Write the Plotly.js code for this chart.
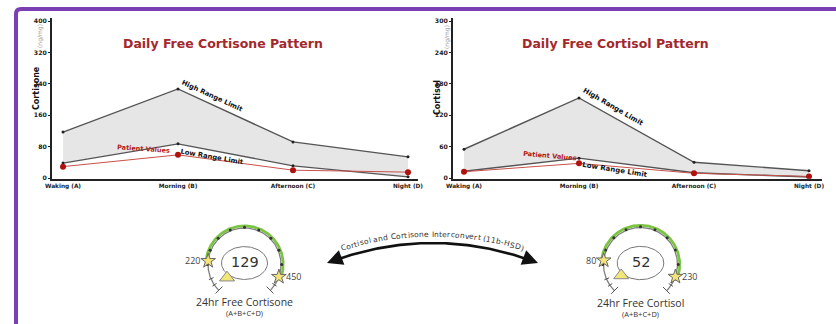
<!DOCTYPE html>
<html><head><meta charset="utf-8">
<script src="https://cdn.plot.ly/plotly-3.0.1.min.js"></script>
<style>html,body{margin:0;padding:0;background:#fff;}#chart{width:836px;height:324px;}</style>
</head><body><div id="chart"></div>
<script>
// ---------- data ----------
const categories = ['Waking (A)','Morning (B)','Afternoon (C)','Night (D)'];
const cortisoneHigh = [117, 227, 92, 54];
const cortisoneLow = [38, 87, 31, 3];
const cortisonePatient = [29, 59, 20, 15];
const cortisolHigh = [55, 153, 30, 14];
const cortisolLow = [13, 38, 10, 2];
const cortisolPatient = [12, 28, 9, 3];
const cortisoneTicks = [0, 80, 160, 240, 320, 400];
const cortisolTicks = [0, 60, 120, 180, 240, 300];

const gaugeTitles = ['24hr Free Cortisone', '24hr Free Cortisol'];
const gaugeSubtitles = ['(A+B+C+D)', '(A+B+C+D)'];
const gaugeValues = [129, 52];
const gaugeLow = [220, 80];
const gaugeHigh = [450, 230];
const gaugeMin = [160, 40];
const gaugeMax = [480, 250];
const arrowLabel = 'Cortisol and Cortisone Interconvert (11b-HSD)';

// ---------- layout helpers ----------
const W = 836, H = 324;
const fx = p => p / W, fy = p => 1 - p / H;
const F = 'DejaVu Sans';
const GF = 'Open Sans';

function rangeTraces(xa, ya, low, high, pat) {
  return [
    {type:'scatter', x:categories, y:low, xaxis:xa, yaxis:ya, mode:'lines+markers',
     line:{color:'#555', width:1.4}, marker:{color:'#222', size:3}},
    {type:'scatter', x:categories, y:high, xaxis:xa, yaxis:ya, mode:'lines+markers',
     fill:'tonexty', fillcolor:'#e6e6e6', line:{color:'#555', width:1.4}, marker:{color:'#222', size:3}},
    {type:'scatter', x:categories, y:pat, xaxis:xa, yaxis:ya, mode:'lines+markers',
     line:{color:'#c8504a', width:1}, marker:{color:'#b0100e', size:6}}
  ];
}
function xAx(p0, p1, r1, anchor) {
  return {domain:[fx(p0), fx(p1)], range:[-0.0957, r1], type:'category', anchor:anchor,
    showline:true, linecolor:'#222', linewidth:2, showgrid:false, zeroline:false, ticks:'',
    tickfont:{family:F, size:5.8, color:'#222', weight:'bold'}, fixedrange:true};
}
function yAx(rng, tv, anchor) {
  return {domain:[fy(178.8), fy(17.9)], range:rng, tickvals:tv, anchor:anchor,
    ticks:'outside', ticklen:2, tickwidth:1, tickcolor:'#222',
    showline:true, linecolor:'#222', linewidth:2, showgrid:false, zeroline:false,
    tickfont:{family:F, size:6.2, color:'#222', weight:'bold'}, fixedrange:true};
}

let traces = [];
traces = traces.concat(rangeTraces('x', 'y', cortisoneLow, cortisoneHigh, cortisonePatient));
traces = traces.concat(rangeTraces('x2', 'y2', cortisolLow, cortisolHigh, cortisolPatient));

const layout = {
  width:W, height:H, margin:{l:0, r:0, t:0, b:0},
  paper_bgcolor:'#fff', plot_bgcolor:'rgba(0,0,0,0)', showlegend:false,
  xaxis: xAx(52, 418, 3.087, 'y'),
  yaxis: yAx([-2, 408], cortisoneTicks, 'x'),
  xaxis2: xAx(453, 822, 3.113, 'y2'),
  yaxis2: yAx([-1.5, 306], cortisolTicks, 'x2'),
  xaxis5: {domain:[0,1], range:[0,W], visible:false, anchor:'y5', fixedrange:true},
  yaxis5: {domain:[0,1], range:[H,0], visible:false, anchor:'x5', fixedrange:true},
  annotations: [], shapes: []
};
const ann = layout.annotations;

function addText(o) { ann.push(Object.assign({showarrow:false, xanchor:'center', yanchor:'middle'}, o)); }
addText({xref:'paper', yref:'paper', x:fx(223), y:fy(43), text:'Daily Free Cortisone Pattern',
  font:{family:F, size:12.5, color:'#a3282c', weight:'bold'}});
addText({xref:'paper', yref:'paper', x:fx(615), y:fy(43), text:'Daily Free Cortisol Pattern',
  font:{family:F, size:12.5, color:'#a3282c', weight:'bold'}});
addText({xref:'paper', yref:'paper', x:fx(36), y:fy(88), text:'Cortisone', textangle:-90,
  font:{family:F, size:8, color:'#111', weight:'bold'}});
addText({xref:'paper', yref:'paper', x:fx(40), y:fy(36), text:'(ng/mg)', textangle:-90,
  font:{family:F, size:6, color:'#9a9a9a'}});
addText({xref:'paper', yref:'paper', x:fx(437), y:fy(98), text:'Cortisol', textangle:-90,
  font:{family:F, size:8, color:'#111', weight:'bold'}});
addText({xref:'paper', yref:'paper', x:fx(447), y:fy(37), text:'(ng/mg)', textangle:-90,
  font:{family:F, size:6, color:'#9a9a9a'}});

const lblFont = (c, s) => ({family:F, size:s, color:c, weight:'bold'});
addText({xref:'x', yref:'y', x:1.296, y:209, text:'High Range Limit', textangle:24.6, font:lblFont('#111', 6.8)});
addText({xref:'x', yref:'y', x:1.296, y:53.5, text:'Low Range Limit', textangle:10, font:lblFont('#111', 6.8)});
addText({xref:'x', yref:'y', x:0.696, y:74, text:'Patient Values', textangle:4, font:lblFont('#b01818', 6.5)});
addText({xref:'x2', yref:'y2', x:1.296, y:135.7, text:'High Range Limit', textangle:30, font:lblFont('#111', 7)});
addText({xref:'x2', yref:'y2', x:1.313, y:15.3, text:'Low Range Limit', textangle:9, font:lblFont('#111', 7)});
addText({xref:'x2', yref:'y2', x:0.748, y:42, text:'Patient Values', textangle:5, font:lblFont('#b01818', 6.6)});

// ---------- gauges ----------
const gaugeCenters = [[244.5, 264.5], [640.5, 264.5]];
const gaugeRadii = [36.5, 37];
const half = 55;
function gAngle(i, v) { return 225 - 270 * (v - gaugeMin[i]) / (gaugeMax[i] - gaugeMin[i]); }
function pol(r, a, dy) { const t = a * Math.PI / 180; return [r * Math.cos(t), r * Math.sin(t) + (dy || 0)]; }
function arcPts(r, a0, a1) {
  const xs = [], ys = [], n = Math.max(2, Math.ceil(Math.abs(a1 - a0)));
  for (let k = 0; k <= n; k++) { const p = pol(r, a0 + (a1 - a0) * k / n); xs.push(p[0]); ys.push(p[1]); }
  return [xs, ys];
}
gaugeValues.forEach((val, i) => {
  const xa = 'x' + (3 + i), ya = 'y' + (3 + i);
  const [cx, cy] = gaugeCenters[i], r = gaugeRadii[i], lim = half / r;
  layout['xaxis' + (3 + i)] = {domain:[fx(cx - half), fx(cx + half)], range:[-lim, lim], visible:false, anchor:ya, fixedrange:true};
  layout['yaxis' + (3 + i)] = {domain:[fy(cy + half), fy(cy - half)], range:[-lim, lim], visible:false, anchor:xa, fixedrange:true};
  const aLow = gAngle(i, gaugeLow[i]), aHigh = gAngle(i, gaugeHigh[i]);
  let [ax, ay] = arcPts(1, 225, -45);
  traces.push({type:'scatter', x:ax, y:ay, xaxis:xa, yaxis:ya, mode:'lines', line:{color:'#808080', width:1.3}});
  [ax, ay] = arcPts(1.06, aLow, aHigh);
  traces.push({type:'scatter', x:ax, y:ay, xaxis:xa, yaxis:ya, mode:'lines', line:{color:'#7cc444', width:2.8}});
  const cx_ = [], cy_ = [];
  [225, 214, 203, -45, -34].forEach((a, k) => {
    const r0 = k === 0 || k === 3 ? 0.86 : 0.92, r1 = k === 0 || k === 3 ? 1.12 : 1.06;
    const p0 = pol(r0, a), p1 = pol(r1, a);
    cx_.push(p0[0], p1[0], null); cy_.push(p0[1], p1[1], null);
  });
  traces.push({type:'scatter', x:cx_, y:cy_, xaxis:xa, yaxis:ya, mode:'lines', line:{color:'#555', width:1}});
  const tx = [], ty = [];
  for (let a = 180; a >= -22.5; a -= 22.5) { const p = pol(1.02, a); tx.push(p[0]); ty.push(p[1]); }
  traces.push({type:'scatter', x:tx, y:ty, xaxis:xa, yaxis:ya, mode:'markers', marker:{color:'#333', size:3}});
  const ex = [], ey = [];
  for (let k = 0; k <= 120; k++) { const t = k / 120 * 2 * Math.PI; ex.push(0.63 * Math.cos(t)); ey.push(0.45 * Math.sin(t) + 0.04); }
  traces.push({type:'scatter', x:ex, y:ey, xaxis:xa, yaxis:ya, mode:'lines', line:{color:'#777', width:1}});
  const aP = Math.min(gAngle(i, val), 217);
  const pp = pol(0.6, aP);
  traces.push({type:'scatter', x:[pp[0]], y:[pp[1]], xaxis:xa, yaxis:ya, mode:'markers',
    marker:{symbol:'triangle-up', size:13, color:'#f3e679', line:{color:'#888', width:1}}});
  const sl = pol(1, aLow), sh = pol(1, aHigh);
  traces.push({type:'scatter', x:[sl[0], sh[0]], y:[sl[1], sh[1]], xaxis:xa, yaxis:ya, mode:'markers',
    marker:{symbol:'star', size:11, color:'#f5e47a', line:{color:'#666', width:1}}});
  ann.push({xref:xa, yref:ya, x:sl[0], y:sl[1], xshift:-6, xanchor:'right', yanchor:'middle', showarrow:false,
    text:String(gaugeLow[i]), font:{family:GF, size:9, color:'#444'}});
  ann.push({xref:xa, yref:ya, x:sh[0], y:sh[1], xshift:5, xanchor:'left', yanchor:'middle', showarrow:false,
    text:String(gaugeHigh[i]), font:{family:GF, size:9, color:'#444'}});
  ann.push({xref:xa, yref:ya, x:0, y:0.06, showarrow:false, text:String(val),
    font:{family:F, size:14.5, color:'#333'}});
  ann.push({xref:xa, yref:ya, x:0, y:-1.03, showarrow:false, text:gaugeTitles[i],
    font:{family:GF, size:10.5, color:'#333'}});
  ann.push({xref:xa, yref:ya, x:0, y:-1.33, showarrow:false, text:gaugeSubtitles[i],
    font:{family:GF, size:7.5, color:'#333'}});
});

// ---------- interconversion arrow ----------
const P0 = [327, 263], P1 = [433, 223], P2 = [538, 263];
function bz(t) { const u = 1 - t; return [u*u*P0[0] + 2*u*t*P1[0] + t*t*P2[0], u*u*P0[1] + 2*u*t*P1[1] + t*t*P2[1]]; }
function bzd(t) { return [2*(1-t)*(P1[0]-P0[0]) + 2*t*(P2[0]-P1[0]), 2*(1-t)*(P1[1]-P0[1]) + 2*t*(P2[1]-P1[1])]; }
const axs = [], ays = [];
for (let k = 0; k <= 100; k++) { const t = 0.02 + 0.96 * k / 100; const p = bz(t); axs.push(p[0]); ays.push(p[1]); }
traces.push({type:'scatter', x:axs, y:ays, xaxis:'x5', yaxis:'y5', mode:'lines', line:{color:'#111', width:2.6}});
[[0, 1], [1, -1]].forEach(([t, s]) => {
  const p = bz(t), d = bzd(t), L = Math.hypot(d[0], d[1]);
  ann.push({xref:'x5', yref:'y5', x:p[0], y:p[1], ax:s * d[0] / L * 14, ay:s * d[1] / L * 14,
    showarrow:true, arrowhead:2, arrowsize:1.2, arrowwidth:2.6, arrowcolor:'#111', text:''});
});
(function () {
  const size = 7.5, off = 9, span = 186;
  const ctx = document.createElement('canvas').getContext('2d');
  ctx.font = size + 'px "' + F + '"';
  const N = 600, ox = [], oy = [], cum = [0];
  for (let k = 0; k <= N; k++) {
    const t = k / N, p = bz(t), d = bzd(t), L = Math.hypot(d[0], d[1]);
    ox.push(p[0] + d[1] / L * off); oy.push(p[1] - d[0] / L * off);
    if (k > 0) cum.push(cum[k - 1] + Math.hypot(ox[k] - ox[k - 1], oy[k] - oy[k - 1]));
  }
  const total = cum[N];
  const ws = arrowLabel.split('').map(c => ctx.measureText(c).width);
  const nat = ws.reduce((a, b) => a + b, 0), sc = span / nat;
  let s = total / 2 - span / 2;
  arrowLabel.split('').forEach((c, j) => {
    const w = ws[j] * sc, sm = s + w / 2; s += w;
    if (c === ' ') return;
    let k = 1; while (k < N && cum[k] < sm) k++;
    const f = (sm - cum[k - 1]) / (cum[k] - cum[k - 1]);
    const x = ox[k - 1] + f * (ox[k] - ox[k - 1]), y = oy[k - 1] + f * (oy[k] - oy[k - 1]);
    const ang = Math.atan2(oy[k] - oy[k - 1], ox[k] - ox[k - 1]) * 180 / Math.PI;
    ann.push({xref:'x5', yref:'y5', x:x, y:y, text:c, textangle:ang, showarrow:false,
      xanchor:'center', yanchor:'middle', borderpad:0, font:{family:F, size:size, color:'#333'}});
  });
})();

// ---------- frame ----------
layout.shapes.push({type:'path', xref:'x5', yref:'y5', path:'M16,330 L16,14 Q16,9 21,9 L836,9',
  line:{color:'#7b3fb4', width:4}, layer:'above'});

Plotly.newPlot('chart', traces, layout, {staticPlot:true, displayModeBar:false});
</script>
</body></html>
